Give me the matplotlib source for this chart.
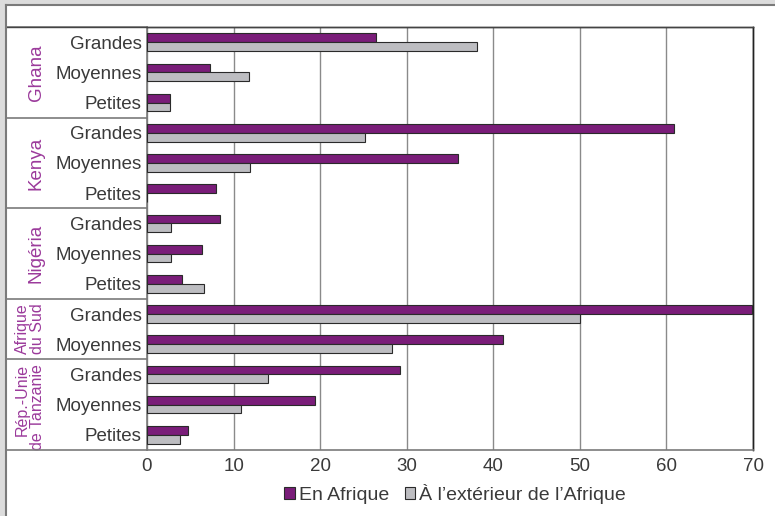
import matplotlib
matplotlib.use("Agg")
import matplotlib.pyplot as plt
from matplotlib.patches import Rectangle
from matplotlib.lines import Line2D
import matplotlib.transforms as mtrans

plt.rcParams['font.family'] = ['Liberation Sans', 'DejaVu Sans']

groups = ["Ghana", "Kenya", "Nigéria", "Afrique\ndu Sud", "Rép.-Unie\nde Tanzanie"]
group_cats = [
    ["Grandes", "Moyennes", "Petites"],
    ["Grandes", "Moyennes", "Petites"],
    ["Grandes", "Moyennes", "Petites"],
    ["Grandes", "Moyennes"],
    ["Grandes", "Moyennes", "Petites"],
]
en_afrique = [26.5, 7.3, 2.6, 60.9, 35.9, 8.0, 8.4, 6.4, 4.0, 69.9, 41.1, 29.2, 19.4, 4.7]
hors_afrique = [38.1, 11.8, 2.6, 25.2, 11.9, 0.0, 2.8, 2.8, 6.6, 50.0, 28.3, 14.0, 10.9, 3.8]
xticks = [0, 10, 20, 30, 40, 50, 60, 70]
series_names = ["En Afrique", "À l\u2019extérieur de l\u2019Afrique"]

PURPLE = "#7a1d79"
GREY = "#bdbdc1"
GROUPC = "#9b3a9b"
TXT = "#3a3a3a"
FS = 13.5

W, H = 775, 516
fig = plt.figure(figsize=(W / 100, H / 100), dpi=100)
fig.patch.set_facecolor("white")

# outer frame decorations
fig.add_artist(Rectangle((0, 1 - 5 / H), 1, 5 / H, transform=fig.transFigure, facecolor="#dcdcdc", edgecolor="none", zorder=0))
fig.add_artist(Rectangle((0, 0), 6 / W, 1, transform=fig.transFigure, facecolor="#dcdcdc", edgecolor="none", zorder=0))
fig.add_artist(Line2D([6 / W, 1], [1 - 5 / H, 1 - 5 / H], transform=fig.transFigure, color="#7a7a7a", lw=1.5))
fig.add_artist(Line2D([6 / W, 6 / W], [0, 1 - 5 / H], transform=fig.transFigure, color="#7a7a7a", lw=1.5))

x0, x1 = 147, 753
y0, y1 = 27, 450
ax = fig.add_axes([x0 / W, 1 - y1 / H, (x1 - x0) / W, (y1 - y0) / H])

cats = [c for g in group_cats for c in g]
n = len(cats)
pos = list(range(n))
h = 0.29
ax.barh([p - h / 2 for p in pos], en_afrique, height=h, color=PURPLE, edgecolor="#2a2a2a", lw=0.8, zorder=3, label=series_names[0])
ax.barh([p + h / 2 for p in pos], hors_afrique, height=h, color=GREY, edgecolor="#2a2a2a", lw=0.8, zorder=3, label=series_names[1])

ax.set_xlim(0, 70)
ax.set_ylim(n - 0.5, -0.5)
ax.set_xticks(xticks)
ax.set_xticklabels([str(t) for t in xticks], fontsize=FS, color=TXT)
ax.set_yticks(pos)
ax.set_yticklabels(cats, fontsize=FS, color=TXT)
ax.tick_params(length=0, pad=4)
ax.tick_params(axis="x", pad=6)
ax.xaxis.grid(True, color="#8a8a8a", lw=1.0, zorder=1)
ax.set_axisbelow(True)
for s in ["top", "right"]:
    ax.spines[s].set_color("#222222")
    ax.spines[s].set_linewidth(1.0)
for s in ["left", "bottom"]:
    ax.spines[s].set_color("#7a7a7a")
    ax.spines[s].set_linewidth(1.2)

# table lines and group labels
trans = mtrans.blended_transform_factory(ax.transAxes, ax.transData)
px = lambda p: (p - x0) / (x1 - x0)
slot_px = (y1 - y0) / n
xl = px(6)
start = 0
bounds = [-0.5]
top_offsets = {3: 4, 4: 5}
for gi, (g, cl) in enumerate(zip(groups, group_cats)):
    end = start + len(cl)
    bounds.append(end - 0.5)
    mid = (start + end - 1) / 2
    if "\n" in g:
        ytop = start - 0.5 + top_offsets.get(gi, 4) / slot_px
        for li, line in enumerate(g.split("\n")):
            ax.text(px(22 + 16 * li), ytop, line, transform=trans, rotation=90, rotation_mode="anchor",
                    ha="right", va="center", fontsize=11.5, color=GROUPC)
    else:
        ax.text(px(36), mid, g, transform=trans, rotation=90, ha="center", va="center",
                fontsize=FS, color=GROUPC)
    start = end
for b in bounds:
    ax.plot([xl, 0], [b, b], transform=trans, color="#7a7a7a", lw=1.2, clip_on=False, zorder=5)
ax.plot([1, 1], [-0.5, n - 0.5], transform=trans, color="#222222", lw=1.0, clip_on=False)
ax.plot([xl, 1], [-0.5, -0.5], transform=trans, color="#444444", lw=1.0, clip_on=False, zorder=5)

fig.legend(loc="center", bbox_to_anchor=(455 / W, 1 - 494 / H), ncol=2, frameon=False, fontsize=14,
           handlelength=0.55, handleheight=0.55, handletextpad=0.2, columnspacing=0.8, labelcolor=TXT)

fig.savefig("out.png", dpi=100, facecolor=fig.get_facecolor())
